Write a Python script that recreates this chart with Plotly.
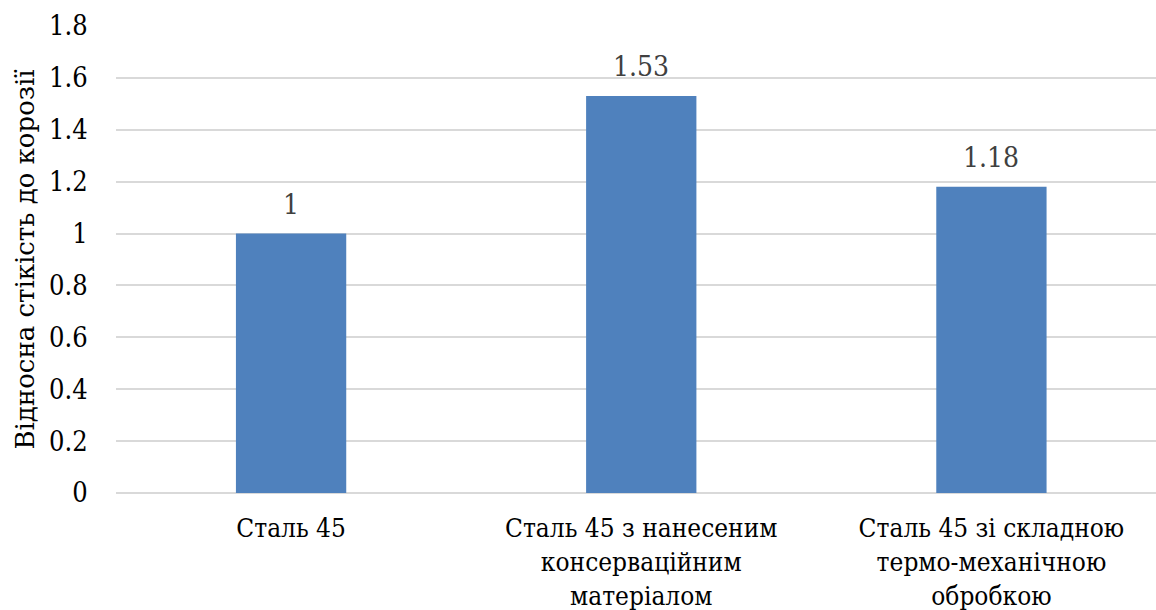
import plotly.graph_objects as go

categories = [
    "Сталь 45",
    "Сталь 45 з нанесеним<br>консерваційним<br>матеріалом",
    "Сталь 45 зі складною<br>термо-механічною<br>обробкою",
]
values = [1.0, 1.53, 1.18]
value_labels = ["1", "1.53", "1.18"]
y_ticks = [0, 0.2, 0.4, 0.6, 0.8, 1.0, 1.2, 1.4, 1.6, 1.8]
y_tick_text = ["0", "0.2", "0.4", "0.6", "0.8", "1", "1.2", "1.4", "1.6", "1.8"]
y_title = "Відносна стікість до корозії"

FONT = "DejaVu Serif"
FONT_COND = "DejaVu Serif Condensed, DejaVu Serif"

positions = list(range(len(categories)))

fig = go.Figure(
    go.Bar(
        x=positions,
        y=values,
        width=0.315,
        marker=dict(color="#4F81BD", line=dict(width=0)),
        hoverinfo="skip",
    )
)

# value labels above each bar
for xp, v, lbl in zip(positions, values, value_labels):
    fig.add_annotation(
        x=xp, y=v, text=lbl, showarrow=False,
        xanchor="center", yanchor="bottom", yshift=11,
        font=dict(family=FONT_COND, size=28, color="#404040"),
    )

fig.update_layout(
    width=1156,
    height=610,
    margin=dict(l=116, r=0, t=26, b=117),
    paper_bgcolor="white",
    plot_bgcolor="white",
    showlegend=False,
    font=dict(family=FONT, color="#000000"),
)

fig.update_xaxes(
    range=[-0.5, 2.47],
    tickmode="array",
    tickvals=positions,
    ticktext=categories,
    tickfont=dict(family=FONT_COND, size=26, color="#000000"),
    showgrid=False,
    showline=False,
    zeroline=False,
    ticks="outside",
    ticklen=12,
    tickcolor="rgba(0,0,0,0)",
)

fig.update_yaxes(
    range=[0, 1.8],
    tickmode="array",
    tickvals=y_ticks,
    ticktext=y_tick_text,
    tickfont=dict(family=FONT_COND, size=27, color="#000000"),
    showgrid=True,
    gridcolor="#D9D9D9",
    gridwidth=1.5,
    zeroline=True,
    zerolinecolor="#D9D9D9",
    zerolinewidth=1.5,
    showline=False,
    ticks="outside",
    ticklen=22,
    tickcolor="rgba(0,0,0,0)",
    title=dict(text=y_title, font=dict(family=FONT, size=26, color="#000000"), standoff=6),
)

fig.write_html("out.html")
